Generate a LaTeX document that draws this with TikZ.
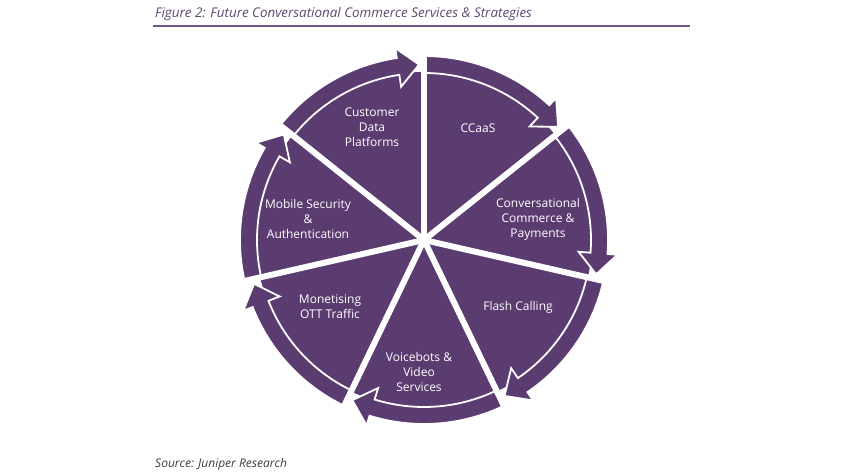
\documentclass[tikz,border=0pt]{standalone}
\usepackage{fontspec}
\setmainfont{Open Sans}
\usetikzlibrary{calc}
\definecolor{jpurple}{RGB}{91,60,112}
\definecolor{jtitle}{RGB}{92,72,112}
\definecolor{jrule}{RGB}{110,88,135}
\definecolor{jsource}{RGB}{60,60,60}
\begin{document}
\begin{tikzpicture}[x=1pt,y=1pt,
  band/.style={fill=jpurple,draw=white,line width=1.8pt,line join=miter},
  gapline/.style={draw=white,line width=6pt},
  lbl/.style={text=white,align=center,font=\fontsize{12}{15}\selectfont,inner sep=0pt},
  caption/.style={anchor=base west,inner sep=0pt,font=\fontsize{13.4}{16}\selectfont\itshape}]
\useasboundingbox (0,0) rectangle (850,475);
% title and rule
\node[caption,text=jtitle] (title) at (155,457) {Figure 2: Future Conversational Commerce Services \& Strategies};
\coordinate (ruleL) at (153,449);
\coordinate (ruleR) at (690,449);
\draw[jrule,line width=2pt] (ruleL) -- (ruleR);
\node[caption,text=jsource,font=\fontsize{12}{15}\selectfont\itshape] (source) at (155,8) {Source: Juniper Research};
% wheel
\coordinate (c) at (424,235);
\begin{scope}[shift={(c)}]
  \fill[jpurple] (0,0) circle[radius=168pt];
  \foreach \k in {0,...,6}{
    \pgfmathsetmacro\aS{90-360/7*\k}
    \pgfmathsetmacro\aE{\aS-360/7}
    \pgfmathsetmacro\aH{\aE+8.5}
    \pgfmathsetmacro\aT{\aE+1.6}
    \filldraw[band] (\aS:167) -- (\aS:184)
      arc[start angle=\aS, end angle=\aH, radius=184pt]
      -- (\aH:194) -- (\aT:175.5) -- (\aH:155) -- (\aH:167)
      arc[start angle=\aH, end angle=\aS, radius=167pt] -- cycle;
  }
  \foreach \k in {0,...,6}{
    \pgfmathsetmacro\aG{90-360/7*\k}
    \draw[gapline] (0,0) -- (\aG:205);
  }
\end{scope}
% labels
\node[lbl] (cdp) at (372,348) {Customer\\Data\\Platforms};
\node[lbl] (ccaas) at (478,347) {CCaaS};
\node[lbl] (conv) at (538,256) {Conversational\\Commerce \&\\Payments};
\node[lbl] (flash) at (518,168) {Flash Calling};
\node[lbl] (voice) at (419,103) {Voicebots \&\\Video\\Services};
\node[lbl] (monet) at (330,168) {Monetising\\OTT Traffic};
\node[lbl] (mobile) at (308,256) {Mobile Security\\\&\\Authentication};
\end{tikzpicture}
\end{document}
